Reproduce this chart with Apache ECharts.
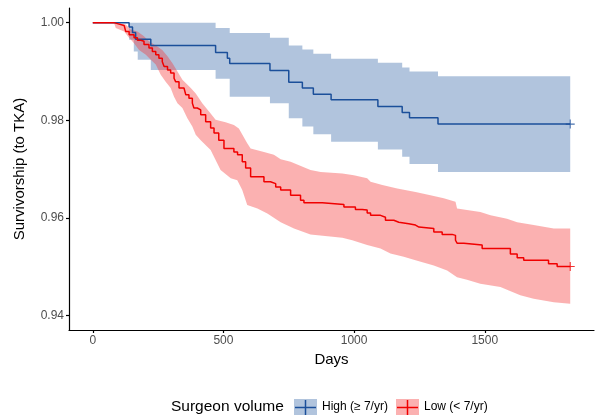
<!DOCTYPE html>
<html lang="en" style="height: 100%">
<head>
<meta charset="utf-8">
</head>
<body style="height: 100%; margin: 0">
<div id="container" style="width: 595px; height: 415px"></div>
<script type="text/javascript" src="https://cdn.jsdelivr.net/npm/echarts@6.0.0/dist/echarts.min.js"></script>
<script type="text/javascript">
// High volume group (>= 7/yr): KM steps
var highT   = [0, 139, 152, 164, 222, 470, 515, 524, 678, 750, 802, 844, 912, 1091, 1184, 1212, 1321, 1827];
var highS   = [1.0, 0.9991, 0.9980, 0.9966, 0.9953, 0.9939, 0.9927, 0.9916, 0.9902, 0.9878, 0.9866, 0.9853, 0.9842, 0.9828, 0.9816, 0.9805, 0.9792, 0.9792];
// High volume confidence band
var highCiT  = [0, 139, 157, 172, 222, 470, 524, 678, 750, 802, 844, 912, 1091, 1184, 1212, 1321, 1827];
var highLo   = [1.0, 0.9965, 0.9941, 0.9924, 0.9903, 0.9885, 0.9848, 0.9835, 0.9804, 0.9787, 0.9771, 0.9756, 0.9740, 0.9725, 0.9710, 0.9694, 0.9694];
var highHi   = [1.0, 1.0, 1.0, 1.0, 1.0, 0.9989, 0.9979, 0.9969, 0.9953, 0.9945, 0.9936, 0.9926, 0.9918, 0.9908, 0.9900, 0.9890, 0.9890];

// Low volume group (< 7/yr): KM steps
var lowT = [0, 81, 88, 94, 120, 126, 139, 158, 171, 184, 196, 215, 228, 241, 253, 266, 273, 286, 298, 311, 317, 330, 349, 356, 368, 381, 387, 400, 413, 432, 451, 464, 482, 502, 540, 554, 572, 585, 604, 655, 680, 700, 719, 757, 795, 808, 878, 961, 1005, 1031, 1050, 1063, 1101, 1120, 1152, 1171, 1209, 1235, 1248, 1305, 1337, 1375, 1388, 1394, 1420, 1490, 1598, 1624, 1649, 1744, 1777, 1827];
var lowS = [1.0, 1.0, 0.9998, 0.9994, 0.9991, 0.9982, 0.9975, 0.9969, 0.9964, 0.9962, 0.9955, 0.9948, 0.9941, 0.9934, 0.9927, 0.9920, 0.9910, 0.9903, 0.9897, 0.9886, 0.9879, 0.9866, 0.9862, 0.9852, 0.9845, 0.9835, 0.9825, 0.9821, 0.9811, 0.9797, 0.9784, 0.9774, 0.9759, 0.9742, 0.9735, 0.9729, 0.9715, 0.9702, 0.9684, 0.9674, 0.9670, 0.9663, 0.9657, 0.9646, 0.9636, 0.9631, 0.9627, 0.9622, 0.9617, 0.9616, 0.9610, 0.9605, 0.9601, 0.9595, 0.9591, 0.9588, 0.9585, 0.9581, 0.9578, 0.9571, 0.9566, 0.9564, 0.9554, 0.9548, 0.9544, 0.9537, 0.9526, 0.9518, 0.9513, 0.9506, 0.9500, 0.9500];
// Low volume confidence band (edges)
var lowHiT = [0, 81, 126, 145, 171, 196, 215, 247, 266, 286, 305, 324, 343, 375, 394, 419, 451, 470, 508, 540, 559, 591, 604, 655, 693, 719, 757, 833, 872, 955, 999, 1050, 1063, 1108, 1165, 1235, 1292, 1343, 1388, 1394, 1432, 1483, 1522, 1585, 1624, 1687, 1764, 1827];
var lowHi  = [1.0, 1.0, 0.9996, 0.9986, 0.9982, 0.9972, 0.9962, 0.9951, 0.9944, 0.9931, 0.9917, 0.9900, 0.9883, 0.9866, 0.9855, 0.9835, 0.9814, 0.9801, 0.9796, 0.9790, 0.9783, 0.9753, 0.9742, 0.9735, 0.9729, 0.9720, 0.9715, 0.9698, 0.9694, 0.9691, 0.9687, 0.9681, 0.9674, 0.9667, 0.9660, 0.9653, 0.9646, 0.9640, 0.9633, 0.9619, 0.9616, 0.9612, 0.9605, 0.9598, 0.9591, 0.9585, 0.9578, 0.9578];
var lowLoT = [0, 81, 88, 120, 139, 158, 177, 203, 222, 241, 260, 279, 298, 311, 324, 343, 362, 381, 394, 413, 451, 489, 528, 553, 572, 591, 630, 668, 719, 770, 833, 955, 993, 1050, 1101, 1139, 1190, 1235, 1305, 1356, 1394, 1432, 1483, 1560, 1592, 1636, 1687, 1764, 1827];
var lowLo  = [1.0, 1.0, 0.9989, 0.9982, 0.9969, 0.9958, 0.9944, 0.9934, 0.9924, 0.9914, 0.9893, 0.9879, 0.9866, 0.9848, 0.9835, 0.9825, 0.9804, 0.9787, 0.9770, 0.9759, 0.9739, 0.9698, 0.9681, 0.9677, 0.9657, 0.9626, 0.9619, 0.9609, 0.9591, 0.9578, 0.9566, 0.9559, 0.9554, 0.9544, 0.9537, 0.9527, 0.9520, 0.9513, 0.9502, 0.9492, 0.9478, 0.9473, 0.9465, 0.9458, 0.9451, 0.9441, 0.9434, 0.9427, 0.9424];

// censor marks at the end of follow-up
var highCensor = [[1827, 0.9792]];
var lowCensor  = [[1827, 0.9500]];

var xTicks = [0, 500, 1000, 1500];
var yTicks = [0.94, 0.96, 0.98, 1.00];

var blueLine = '#1b4f9a';
var redLine = '#f00000';
var blueFill = 'rgba(70, 115, 175, 0.42)';
var redFill = 'rgba(245, 50, 50, 0.38)';
var font = 'Liberation Sans, Arial, sans-serif';

function pairs(t, v) {
  return t.map(function (d, i) { return [d, v[i]]; });
}

// ribbon between lower and upper bounds; stepped or joined straight
function bandSeries(name, hiT, hi, loT, lo, fill, stepped) {
  return {
    type: 'custom',
    name: name,
    silent: true,
    clip: true,
    data: [[hiT[0], hi[0]]],
    encode: { x: 0, y: 1 },
    renderItem: function (params, api) {
      var pts = [];
      for (var i = 0; i < hiT.length; i++) {
        pts.push(api.coord([hiT[i], hi[i]]));
        if (stepped && i < hiT.length - 1) pts.push(api.coord([hiT[i + 1], hi[i]]));
      }
      for (var j = loT.length - 1; j >= 0; j--) {
        if (stepped && j < loT.length - 1) pts.push(api.coord([loT[j + 1], lo[j]]));
        pts.push(api.coord([loT[j], lo[j]]));
      }
      return { type: 'polygon', shape: { points: pts }, style: { fill: fill } };
    }
  };
}

var crossPath = 'path://M0,4.4H10V5.6H0Z M4.4,0H5.6V10H4.4Z';

var dom = document.getElementById('container');
var myChart = echarts.init(dom, null, { renderer: 'canvas' });

var option = {
  animation: false,
  grid: { left: 69, right: 1, top: 8, bottom: 85, outerBoundsMode: 'none' },
  xAxis: {
    type: 'value',
    min: -91,
    max: 1918,
    name: 'Days',
    nameLocation: 'middle',
    nameGap: 22,
    nameTextStyle: { fontFamily: font, fontSize: 15, color: '#000' },
    axisLine: { show: true, onZero: false, lineStyle: { color: '#000', width: 1.2 } },
    axisTick: { show: true, length: 3, customValues: xTicks, lineStyle: { color: '#000', width: 1.2 } },
    axisLabel: {
      customValues: xTicks, fontFamily: font, fontSize: 12, color: '#4d4d4d', margin: 5,
      formatter: function (v) { return String(v); }
    },
    splitLine: { show: false }
  },
  yAxis: {
    type: 'value',
    min: 0.937,
    max: 1.003,
    name: 'Survivorship (to TKA)',
    nameLocation: 'middle',
    nameGap: 42,
    nameTextStyle: { fontFamily: font, fontSize: 15, color: '#000' },
    axisLine: { show: true, onZero: false, lineStyle: { color: '#000', width: 1.2 } },
    axisTick: { show: true, length: 3, customValues: yTicks, lineStyle: { color: '#000', width: 1.2 } },
    axisLabel: {
      customValues: yTicks,
      fontFamily: font, fontSize: 12, color: '#4d4d4d', margin: 5,
      formatter: function (v) { return v.toFixed(2); }
    },
    splitLine: { show: false }
  },
  series: [
    bandSeries('High band', highCiT, highHi, highCiT, highLo, blueFill, true),
    bandSeries('Low band', lowHiT, lowHi, lowLoT, lowLo, redFill, false),
    {
      type: 'line', name: 'High', step: 'end', showSymbol: false, silent: true,
      data: pairs(highT, highS),
      lineStyle: { color: blueLine, width: 1.5 }
    },
    {
      type: 'line', name: 'Low', step: 'end', showSymbol: false, silent: true,
      data: pairs(lowT, lowS),
      lineStyle: { color: redLine, width: 1.5 }
    },
    {
      type: 'scatter', symbol: crossPath, symbolSize: 9, silent: true,
      data: highCensor, itemStyle: { color: blueLine }
    },
    {
      type: 'scatter', symbol: crossPath, symbolSize: 9, silent: true,
      data: lowCensor, itemStyle: { color: redLine }
    }
  ],
  graphic: [
    { type: 'text', left: 171, top: 399, style: { text: 'Surgeon volume', font: '15.5px ' + font, fill: '#000' } },
    { type: 'rect', shape: { x: 294, y: 399, width: 23, height: 17 }, style: { fill: blueFill } },
    { type: 'line', shape: { x1: 295, y1: 407.5, x2: 316, y2: 407.5 }, style: { stroke: blueLine, lineWidth: 1.5 } },
    { type: 'line', shape: { x1: 305.5, y1: 400, x2: 305.5, y2: 415 }, style: { stroke: blueLine, lineWidth: 1.5 } },
    { type: 'text', left: 322, top: 401, style: { text: 'High (\u2265 7/yr)', font: '12px ' + font, fill: '#000' } },
    { type: 'rect', shape: { x: 396, y: 399, width: 23, height: 17 }, style: { fill: redFill } },
    { type: 'line', shape: { x1: 397, y1: 407.5, x2: 418, y2: 407.5 }, style: { stroke: redLine, lineWidth: 1.5 } },
    { type: 'line', shape: { x1: 407.5, y1: 400, x2: 407.5, y2: 415 }, style: { stroke: redLine, lineWidth: 1.5 } },
    { type: 'text', left: 424, top: 401, style: { text: 'Low (< 7/yr)', font: '12px ' + font, fill: '#000' } }
  ]
};

myChart.setOption(option);
window.addEventListener('resize', myChart.resize);
</script>
</body>
</html>
